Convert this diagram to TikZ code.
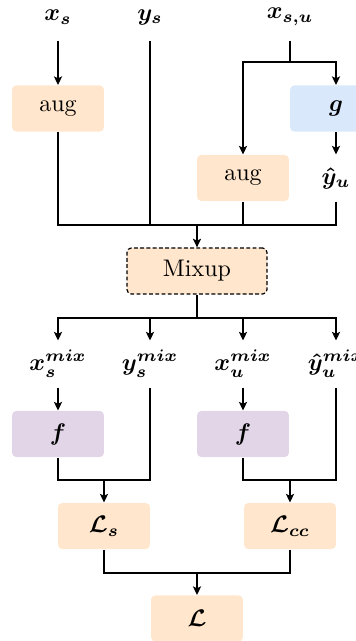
\documentclass[tikz,border=0pt]{standalone}
\usetikzlibrary{arrows.meta}
\definecolor{orfill}{HTML}{FFE6CC}
\definecolor{blfill}{HTML}{DAE8FC}
\definecolor{pufill}{HTML}{E1D5E7}
\tikzset{
  box/.style={rounded corners=1.8pt, minimum width=38.3pt, minimum height=19.2pt, inner sep=0pt, font=\boldmath},
  orbox/.style={box, fill=orfill},
  blbox/.style={box, fill=blfill},
  pubox/.style={box, fill=pufill},
  lbl/.style={minimum height=19.2pt, inner sep=0pt, font=\boldmath},
  con/.style={line width=0.6pt},
  arr/.style={con, -{Stealth[length=3.6pt,width=3.4pt,inset=0.8pt]}},
}
\begin{document}
\begin{tikzpicture}[x=0.4167pt,y=-0.4167pt]
\useasboundingbox (0,0) rectangle (356,641);
\clip (0,0) rectangle (356,641);
% top labels
\node[lbl] (xs) at (58,17) {$x_s$};
\node[lbl] (ys) at (150,17) {$y_s$};
\node[lbl] (xsu) at (290,17) {$x_{s,u}$};
% boxes
\node[orbox] (aug1) at (58,108.5) {aug};
\node[blbox] (g) at (336,108.5) {$g$};
\node[orbox] (aug2) at (243,178) {aug};
\node[lbl] (yhat) at (336,178) {$\hat{y}_u$};
\node[orbox, draw=black, dash pattern=on 1.6pt off 1pt, line width=0.5pt, minimum width=58.3pt] (mix) at (197,271) {Mixup};
\node[lbl] (xsm) at (58,364) {$x_s^{mix}$};
\node[lbl] (ysm) at (150,364) {$y_s^{mix}$};
\node[lbl] (xum) at (243,364) {$x_u^{mix}$};
\node[lbl] (yhm) at (336,364) {$\hat{y}_u^{mix}$};
\node[pubox] (f1) at (58,434) {$f$};
\node[pubox] (f2) at (243,434) {$f$};
\node[orbox] (Ls) at (104,526) {$\mathcal{L}_s$};
\node[orbox] (Lcc) at (290,526) {$\mathcal{L}_{cc}$};
\node[orbox] (L) at (197,618.5) {$\mathcal{L}$};
% junctions
\coordinate (s1) at (290,62);
\coordinate (j1) at (197,225);
\coordinate (j2) at (197,318);
\coordinate (j3) at (104,480);
\coordinate (j4) at (290,480);
\coordinate (j5) at (197,573);
% connectors
\draw[arr] (xs.south) -- (aug1.north);
\draw[con] (xsu.south) -- (s1);
\draw[arr] (s1) -| (aug2.north);
\draw[arr] (s1) -| (g.north);
\draw[arr] (g.south) -- (yhat.north);
\draw[con] (aug1.south) |- (j1);
\draw[con] (ys.south) |- (j1);
\draw[con] (aug2.south) |- (j1);
\draw[con] (yhat.south) |- (j1);
\draw[arr] (j1) -- (mix.north);
\draw[con] (mix.south) -- (j2);
\draw[arr] (j2) -| (xsm.north);
\draw[arr] (j2) -| (ysm.north);
\draw[arr] (j2) -| (xum.north);
\draw[arr] (j2) -| (yhm.north);
\draw[arr] (xsm.south) -- (f1.north);
\draw[arr] (xum.south) -- (f2.north);
\draw[con] (f1.south) |- (j3);
\draw[con] (ysm.south) |- (j3);
\draw[arr] (j3) -- (Ls.north);
\draw[con] (f2.south) |- (j4);
\draw[con] (yhm.south) |- (j4);
\draw[arr] (j4) -- (Lcc.north);
\draw[con] (Ls.south) |- (j5);
\draw[con] (Lcc.south) |- (j5);
\draw[arr] (j5) -- (L.north);
\end{tikzpicture}
\end{document}
